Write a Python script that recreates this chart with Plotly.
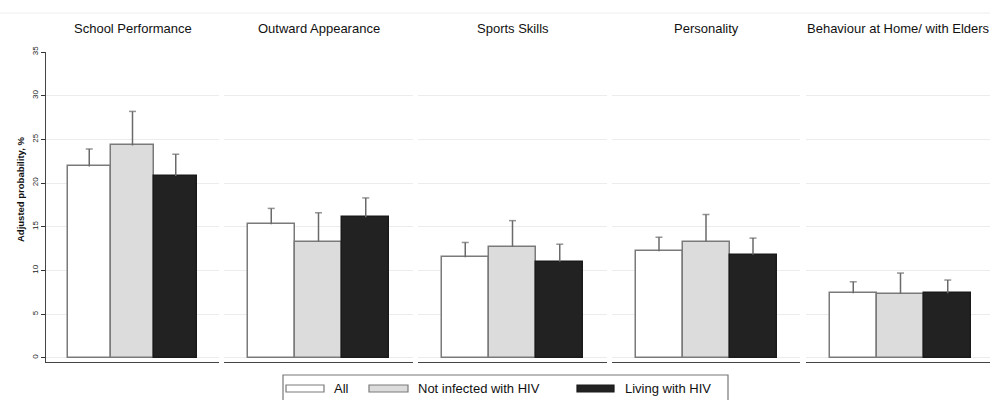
import plotly.graph_objects as go

# ---------------- data ----------------
categories = ["School Performance", "Outward Appearance", "Sports Skills",
              "Personality", "Behaviour at Home/ with Elders"]
series_names = ["All", "Not infected with HIV", "Living with HIV"]

all_vals = [21.9, 15.3, 11.5, 12.2, 7.4]
all_upper = [23.9, 17.1, 13.2, 13.8, 8.7]
neg_vals = [24.3, 13.3, 12.7, 13.3, 7.3]
neg_upper = [28.2, 16.6, 15.7, 16.4, 9.7]
pos_vals = [20.8, 16.1, 11.0, 11.8, 7.4]
pos_upper = [23.3, 18.3, 13.0, 13.7, 8.9]

y_ticks = [0, 5, 10, 15, 20, 25, 30, 35]
y_title = "Adjusted probability, %"

# ---------------- layout geometry (pixels) ----------------
W, H = 990, 400
L, R, T, B = 46, 0, 52, 38
PW = W - L - R
PH = H - T - B
panels_px = [(46, 219), (224, 413), (418, 607), (612, 800), (806, 990)]
unit_px = [43.25, 47.25, 47.25, 47.0, 47.25]


def px_x(x):
    return (x - L) / PW


def px_y(y):
    return (H - B - y) / PH


fill_colors = ["#ffffff", "#dcdcdc", "#222222"]
line_colors = ["#7a7a7a", "#7a7a7a", "#1a1a1a"]
err_color = "#6a6a6a"
vals = [all_vals, neg_vals, pos_vals]
uppers = [all_upper, neg_upper, pos_upper]

fig = go.Figure()
layout_axes = {}
annotations = []
for p, cat in enumerate(categories):
    ax = "x" if p == 0 else f"x{p + 1}"
    axkey = "xaxis" if p == 0 else f"xaxis{p + 1}"
    for s in range(3):
        v = vals[s][p]
        fig.add_trace(go.Bar(
            x=[s], y=[v], width=[1.0], name=series_names[s],
            xaxis=ax, yaxis="y", showlegend=False,
            marker=dict(color=fill_colors[s],
                        line=dict(color=line_colors[s], width=1.5)),
        ))
    for s in range(3):
        v = vals[s][p]
        u = uppers[s][p]
        # one-sided (upper) confidence whisker with a small cap
        fig.add_trace(go.Scatter(
            x=[s, s], y=[v, u], mode="lines+markers",
            xaxis=ax, yaxis="y", showlegend=False, hoverinfo="skip",
            line=dict(color=err_color, width=1.5),
            marker=dict(symbol="line-ew", size=[0, 5],
                        line=dict(color=err_color, width=1.5)),
        ))
    x0, x1 = panels_px[p]
    span = (x1 - x0) / unit_px[p]
    layout_axes[axkey] = dict(
        domain=[px_x(x0), px_x(x1)], anchor="y",
        range=[-1, -1 + span], showline=True, linecolor="#444444",
        linewidth=1.3, showticklabels=False, ticks="", showgrid=False,
        zeroline=False, fixedrange=True,
    )
    annotations.append(dict(
        text=cat, xref=f"{ax} domain", yref="paper",
        x=0.5, y=px_y(29), xanchor="center", yanchor="middle",
        showarrow=False, font=dict(size=13, color="#111111"),
    ))

annotations.append(dict(
    text="<b>" + y_title + "</b>", xref="paper", yref="paper",
    x=px_x(20), y=px_y(190), textangle=-90, showarrow=False,
    xanchor="center", yanchor="middle", font=dict(size=9.5, color="#111111"),
))

# custom legend
shapes = [
    dict(type="line", xref="paper", yref="paper", x0=px_x(0), x1=px_x(990),
         y0=px_y(13), y1=px_y(13), line=dict(color="#eeeeee", width=1)),
    dict(type="rect", xref="paper", yref="paper", x0=px_x(283), x1=px_x(728),
         y0=px_y(375), y1=px_y(403), line=dict(color="#777777", width=1.2),
         fillcolor="rgba(0,0,0,0)"),
]
leg_sw = [(286, 324), (369, 408), (577, 614)]
leg_tx = [332, 416, 623]
for s in range(3):
    shapes.append(dict(type="rect", xref="paper", yref="paper",
                       x0=px_x(leg_sw[s][0]), x1=px_x(leg_sw[s][1]),
                       y0=px_y(385), y1=px_y(392),
                       fillcolor=fill_colors[s],
                       line=dict(color=line_colors[s], width=1.2)))
    annotations.append(dict(
        text=series_names[s], xref="paper", yref="paper",
        x=px_x(leg_tx[s]), y=px_y(388.5), xanchor="left", yanchor="middle",
        showarrow=False, font=dict(size=13, color="#111111"),
    ))

fig.update_layout(
    width=W, height=H,
    margin=dict(l=L, r=R, t=T, b=B, pad=0),
    paper_bgcolor="white", plot_bgcolor="white",
    font=dict(family="Liberation Sans, Arial, sans-serif", color="#111111"),
    bargap=0, barmode="overlay",
    yaxis=dict(
        range=[-0.48, 35], tickvals=y_ticks, ticktext=[str(t) for t in y_ticks],
        tickangle=-90, tickfont=dict(size=8, color="#222222"),
        ticks="outside", ticklen=4, tickcolor="#333333", tickwidth=1,
        showline=True, linecolor="#444444", linewidth=1.3,
        showgrid=True, gridcolor="#ececec", gridwidth=1, zeroline=False,
        anchor="x", fixedrange=True,
    ),
    annotations=annotations, shapes=shapes, showlegend=False,
    **layout_axes,
)

fig.write_html(
    "out.html",
    config={"displayModeBar": False},
    post_script="document.body.style.margin='0';document.body.style.overflow='hidden';",
)
